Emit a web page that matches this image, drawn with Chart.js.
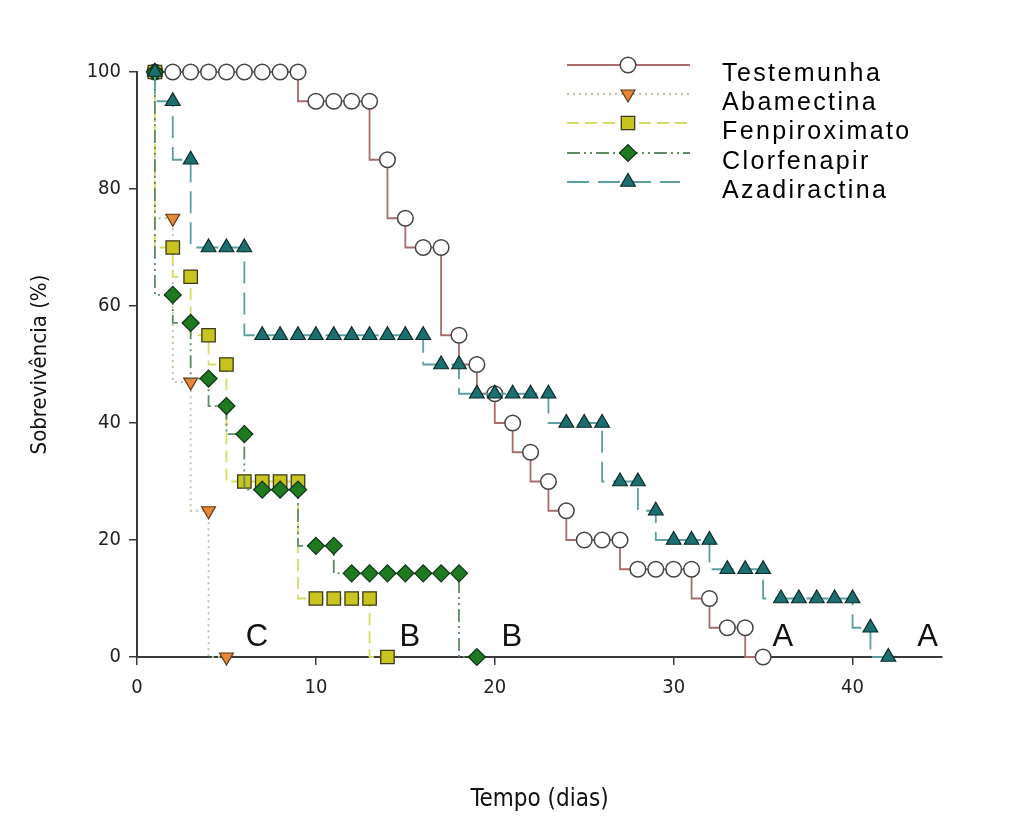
<!DOCTYPE html>
<html><head><meta charset="utf-8">
<script src="https://cdn.jsdelivr.net/npm/chart.js@4.4.0/dist/chart.umd.min.js"></script>
<style>html,body{margin:0;padding:0;background:#fff;}</style>
</head><body>
<canvas id="c" width="1021" height="821"></canvas>
<script>
// ---- data ----
const seriesNames = ['Testemunha','Abamectina','Fenpiroximato','Clorfenapir','Azadiractina'];

const testemunhaDays = [1,2,3,4,5,6,7,8,9,10,11,12,13,14,15,16,17,18,19,20,21,22,23,24,25,26,27,28,29,30,31,32,33,34,35];
const testemunhaVals = [100,100,100,100,100,100,100,100,100,95,95,95,95,85,75,70,70,55,50,45,40,35,30,25,20,20,20,15,15,15,15,10,5,5,0];

const abamectinaDays = [1,2,3,4,5];
const abamectinaVals = [100,75,47,25,0];

const fenpiroximatoDays = [1,2,3,4,5,6,7,8,9,10,11,12,13,14];
const fenpiroximatoVals = [100,70,65,55,50,30,30,30,30,10,10,10,10,0];

const clorfenapirDays = [1,2,3,4,5,6,7,8,9,10,11,12,13,14,15,16,17,18,19];
const clorfenapirVals = [100,61.9,57.1,47.6,42.9,38.1,28.6,28.6,28.6,19,19,14.3,14.3,14.3,14.3,14.3,14.3,14.3,0];

const azadiractinaDays = [1,2,3,4,5,6,7,8,9,10,11,12,13,14,15,16,17,18,19,20,21,22,23,24,25,26,27,28,29,30,31,32,33,34,35,36,37,38,39,40,41,42];
const azadiractinaVals = [100,95,85,70,70,70,55,55,55,55,55,55,55,55,55,55,50,50,45,45,45,45,45,40,40,40,30,30,25,20,20,20,15,15,15,10,10,10,10,10,5,0];

const xTickValues = [0,10,20,30,40];
const yTickValues = [0,20,40,60,80,100];

const groupLetters = ['C','B','B','A','A'];
const groupLetterX = [6.7,15.25,20.95,36.1,44.2];
const groupLetterY = [3.4,3.4,3.4,3.4,3.4];

const xTitle = 'Tempo (dias)';
const yTitle = 'Sobrevivência (%)';

// ---- chart ----
const pts = (xs, ys) => xs.map((x, i) => ({x: x, y: ys[i]}));
const narrow = '"Liberation Sans Narrow", "Arial Narrow", "DejaVu Sans Condensed", "Liberation Sans", sans-serif';

const datasets = [
  {label: seriesNames[0], data: pts(testemunhaDays, testemunhaVals), borderColor: '#a86c6c', borderWidth: 1.8, borderDash: [],
   pointStyle: 'circle', pointRadius: 7.8, pointBackgroundColor: '#ffffff', pointBorderColor: '#444', pointBorderWidth: 1.5, order: 5},
  {label: seriesNames[1], data: pts(abamectinaDays, abamectinaVals), borderColor: '#bcc2a2', borderWidth: 1.8, borderDash: [2,4],
   pointStyle: 'triangle', pointRotation: 180, pointRadius: 8, pointBackgroundColor: '#e8873a', pointBorderColor: '#5a3a1a', pointBorderWidth: 1.2, order: 4},
  {label: seriesNames[2], data: pts(fenpiroximatoDays, fenpiroximatoVals), borderColor: '#d6dc64', borderWidth: 1.8, borderDash: [12,6],
   pointStyle: 'rect', pointRadius: 9.5, pointBackgroundColor: '#c9c41f', pointBorderColor: '#3a3a1a', pointBorderWidth: 1.3, order: 3},
  {label: seriesNames[3], data: pts(clorfenapirDays, clorfenapirVals), borderColor: '#5e8a64', borderWidth: 1.8, borderDash: [13,4,2,4,2,4],
   pointStyle: 'rectRot', pointRadius: 8.5, pointBackgroundColor: '#1f7a1f', pointBorderColor: '#10301a', pointBorderWidth: 1.2, order: 2},
  {label: seriesNames[4], data: pts(azadiractinaDays, azadiractinaVals), borderColor: '#5c9ea2', borderWidth: 1.8, borderDash: [22,9],
   pointStyle: 'triangle', pointRotation: 0, pointRadius: 8.5, pointBackgroundColor: '#1d6e6e', pointBorderColor: '#0b2a2a', pointBorderWidth: 1.2, order: 1}
];
datasets.forEach(d => { d.stepped = 'after'; d.fill = false; d.clip = false; d.pointHoverRadius = d.pointRadius; });

const legendLineY = [65, 94, 123, 153, 182];

const extras = {
  id: 'extras',
  afterDraw(chart) {
    const ctx = chart.ctx;
    const xs = chart.scales.x, ys = chart.scales.y;
    ctx.save();
    // group letters
    ctx.fillStyle = '#111';
    ctx.font = '31px "Liberation Sans", Arial, sans-serif';
    ctx.textAlign = 'center';
    ctx.textBaseline = 'middle';
    groupLetters.forEach((t, i) => {
      ctx.fillText(t, xs.getPixelForValue(groupLetterX[i]), ys.getPixelForValue(groupLetterY[i]));
    });
    // legend
    chart.data.datasets.forEach((ds, i) => {
      const ly = legendLineY[i];
      ctx.strokeStyle = ds.borderColor;
      ctx.lineWidth = ds.borderWidth;
      ctx.setLineDash(ds.borderDash || []);
      ctx.beginPath(); ctx.moveTo(567, ly); ctx.lineTo(i === 4 ? 680 : 690, ly); ctx.stroke();
      ctx.setLineDash([]);
      ctx.fillStyle = ds.pointBackgroundColor;
      ctx.strokeStyle = ds.pointBorderColor;
      ctx.lineWidth = ds.pointBorderWidth;
      if (Chart.helpers && Chart.helpers.drawPoint) {
        Chart.helpers.drawPoint(ctx, {pointStyle: ds.pointStyle, radius: ds.pointRadius, rotation: ds.pointRotation || 0, borderWidth: ds.pointBorderWidth}, 628, ly);
      }
      ctx.fillStyle = '#000';
      ctx.font = '25px "Liberation Sans", Arial, sans-serif';
      try { ctx.letterSpacing = '2.4px'; } catch (e) {}
      ctx.textAlign = 'left';
      ctx.textBaseline = 'middle';
      ctx.fillText(ds.label, 722, ly + 9);
      try { ctx.letterSpacing = '0px'; } catch (e) {}
    });
    ctx.restore();
  }
};

new Chart(document.getElementById('c'), {
  type: 'line',
  data: {datasets: datasets},
  options: {
    responsive: false,
    animation: false,
    events: [],
    layout: {autoPadding: false, padding: {left: 0, right: 79, top: 72, bottom: 0}},
    plugins: {legend: {display: false}, tooltip: {enabled: false}},
    scales: {
      x: {
        type: 'linear', min: 0, max: 45,
        afterBuildTicks: s => { s.ticks = xTickValues.map(v => ({value: v})); },
        afterFit: s => { s.height = 164; },
        border: {display: true, color: '#3a3a3a', width: 2},
        grid: {drawOnChartArea: false, drawTicks: true, tickLength: 8, color: '#3a3a3a', lineWidth: 1.5},
        ticks: {padding: 11, color: '#222', font: {family: narrow, size: 20}, maxRotation: 0},
        title: {display: true, text: xTitle, color: '#111', font: {family: narrow, size: 24}, padding: {top: 0, bottom: 7}}
      },
      y: {
        type: 'linear', min: 0, max: 100,
        afterBuildTicks: s => { s.ticks = yTickValues.map(v => ({value: v})); },
        afterFit: s => { s.width = 137; },
        border: {display: true, color: '#3a3a3a', width: 2},
        grid: {drawOnChartArea: false, drawTicks: true, tickLength: 8, color: '#3a3a3a', lineWidth: 1.5},
        ticks: {padding: 8, color: '#222', font: {family: narrow, size: 20}},
        title: {display: true, text: yTitle, color: '#111', font: {family: narrow, size: 22}, padding: {top: 27, bottom: 0}}
      }
    }
  },
  plugins: [extras]
});
</script>
</body></html>
